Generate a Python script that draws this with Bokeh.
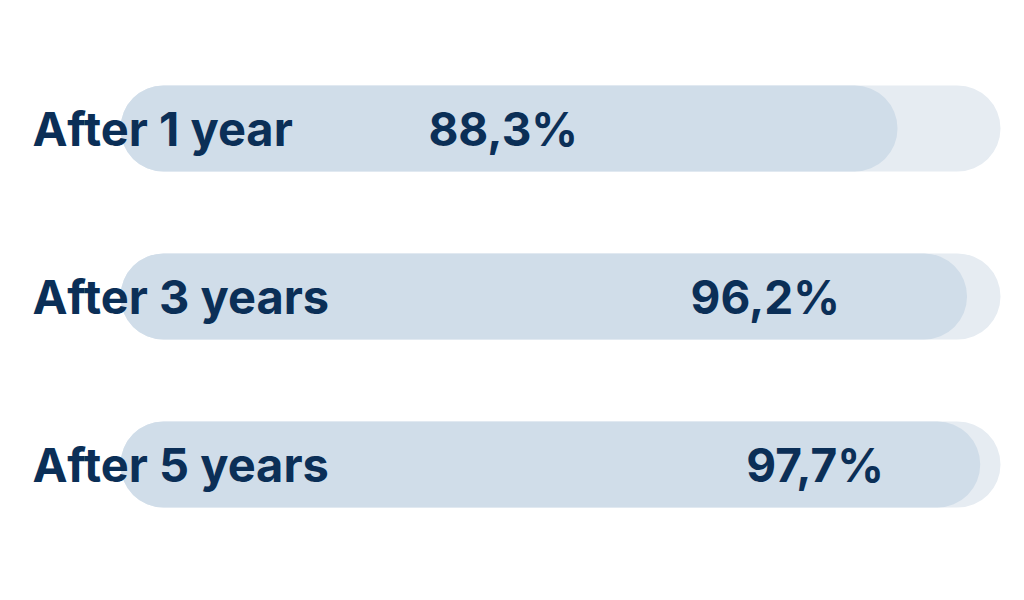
from bokeh.plotting import figure
from bokeh.models import Range1d, ColumnDataSource
from bokeh.core.properties import value
from bokeh.embed import file_html
from bokeh.resources import INLINE

categories = ["After 1 year", "After 3 years", "After 5 years"]
values = [88.3, 96.2, 97.7]
value_labels = ["88,3%", "96,2%", "97,7%"]
full = [100, 100, 100]

rows = list(range(len(categories)))
# value label placement along the bar (scaled from the value)
label_x = [3.77 * v - 289.4 for v in values]

src = ColumnDataSource(dict(y=rows, v=values, full=full, cat=categories,
                            lab=value_labels, lx=label_x,
                            zero=[0] * len(rows), cx=[-10] * len(rows)))

p = figure(width=1008, height=584, output_backend="svg", toolbar_location=None,
           x_range=Range1d(-120 / 8.8, (1008 - 120) / 8.8),
           y_range=Range1d((584 - 128) / 168, -128 / 168),
           min_border=0, border_fill_color="white", background_fill_color="white",
           outline_line_color=None)
p.axis.visible = False
p.grid.visible = False

H = 86 / 168
p.hbar(y="y", left="zero", right="full", height=H, source=src,
       fill_color="#e6ecf2", line_color=None, border_radius=43)
p.hbar(y="y", left="zero", right="v", height=H, source=src,
       fill_color="#d0dde9", line_color=None, border_radius=43)

p.text(x="cx", y="y", text="cat", source=src, text_font=value("Inter"),
       text_font_style="bold", text_font_size="47px", text_color="#0b2f57",
       text_align="left", text_baseline="middle")
p.text(x="lx", y="y", text="lab", source=src, text_font=value("Inter"),
       text_font_style="bold", text_font_size="46px", text_color="#0b2f57",
       text_align="center", text_baseline="middle")

open("out.html", "w").write(file_html(p, INLINE))
